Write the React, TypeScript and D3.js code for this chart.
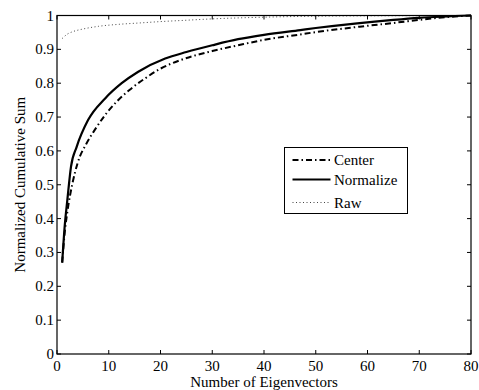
import React from "react";
import * as d3 from "d3";

const xTicks = [0, 10, 20, 30, 40, 50, 60, 70, 80];
const yTicks = [0, 0.1, 0.2, 0.3, 0.4, 0.5, 0.6, 0.7, 0.8, 0.9, 1];

const centerN = [1, 1.5, 2, 3, 4, 5.7, 7.3, 9.3, 11.5, 14, 17, 20, 24, 30, 35, 40, 47, 50, 58.5, 65, 70, 75, 80];
const centerV = [0.27, 0.36, 0.42, 0.505, 0.565, 0.622, 0.662, 0.706, 0.745, 0.78, 0.814, 0.843, 0.869, 0.895, 0.912, 0.928, 0.944, 0.951, 0.967, 0.978, 0.987, 0.995, 1.0];

const normN = [1, 1.5, 2, 2.7, 3.8, 6, 9.3, 12.5, 15.7, 20.9, 25, 30, 35, 40, 47, 50, 58, 65, 70, 80];
const normV = [0.27, 0.38, 0.455, 0.553, 0.612, 0.691, 0.755, 0.8, 0.834, 0.873, 0.892, 0.912, 0.93, 0.943, 0.957, 0.963, 0.977, 0.987, 0.993, 1.0];

const rawN = [1, 2, 3, 5, 8, 12, 16, 20, 25, 30, 40, 50, 60, 80];
const rawV = [0.932, 0.945, 0.952, 0.96, 0.968, 0.974, 0.978, 0.982, 0.986, 0.99, 0.995, 0.998, 0.999, 1.0];

const seriesNames = ["Center", "Normalize", "Raw"];

const W = 479, H = 390;
const L = 57, R = 471, T = 15.5, B = 354;

export default function App() {
  const x = d3.scaleLinear().domain([0, 80]).range([L, R]);
  const y = d3.scaleLinear().domain([0, 1]).range([B, T]);
  const line = d3
    .line<[number, number]>()
    .x((d) => x(d[0]))
    .y((d) => y(d[1]))
    .curve(d3.curveMonotoneX);
  const zip = (a: number[], b: number[]) => a.map((v, i) => [v, b[i]] as [number, number]);
  const fs = { fontFamily: "'Liberation Serif'" };
  const styles = [
    { stroke: "#000", width: 2, dash: "6,3,1.5,3" },
    { stroke: "#000", width: 2.2, dash: "" },
    { stroke: "#444", width: 1, dash: "1,2.5" },
  ];
  const paths = [zip(centerN, centerV), zip(normN, normV), zip(rawN, rawV)];
  const legX = 284.5, legY = 147.5, legW = 123, legH = 66;
  const entryY = [160, 179.5, 202.5];
  return (
    <svg width={W} height={H} style={{ position: "absolute", left: 0, top: 0 }}>
      <rect x={0} y={0} width={W} height={H} fill="#fff" />
      {paths.map((p, i) => (
        <path
          key={i}
          d={line(p) || ""}
          fill="none"
          stroke={styles[i].stroke}
          strokeWidth={styles[i].width}
          strokeDasharray={styles[i].dash || undefined}
        />
      ))}
      <rect x={L} y={T} width={R - L} height={B - T} fill="none" stroke="#000" strokeWidth={1.2} />
      {xTicks.map((t) => (
        <g key={"x" + t}>
          <line x1={x(t)} x2={x(t)} y1={B} y2={B - 4} stroke="#000" />
          <line x1={x(t)} x2={x(t)} y1={T} y2={T + 4} stroke="#000" />
          <text x={x(t)} y={371} textAnchor="middle" style={fs} fontSize={15}>
            {t}
          </text>
        </g>
      ))}
      {yTicks.map((t) => (
        <g key={"y" + t}>
          <line x1={L} x2={L + 4} y1={y(t)} y2={y(t)} stroke="#000" />
          <line x1={R} x2={R - 4} y1={y(t)} y2={y(t)} stroke="#000" />
          <text x={L - 3} y={y(t) + 5} textAnchor="end" style={fs} fontSize={15}>
            {d3.format("")(Math.round(t * 10) / 10)}
          </text>
        </g>
      ))}
      <text x={264} y={387} textAnchor="middle" style={fs} fontSize={15}>
        Number of Eigenvectors
      </text>
      <text
        transform={`translate(25,${(T + B) / 2}) rotate(-90)`}
        textAnchor="middle"
        style={fs}
        fontSize={15}
      >
        Normalized Cumulative Sum
      </text>
      <rect x={legX} y={legY} width={legW} height={legH} fill="#fff" stroke="#000" strokeWidth={1} />
      {seriesNames.map((s, i) => (
        <g key={s}>
          <line
            x1={292.5}
            x2={330.5}
            y1={entryY[i]}
            y2={entryY[i]}
            stroke={styles[i].stroke}
            strokeWidth={styles[i].width}
            strokeDasharray={styles[i].dash || undefined}
          />
          <text x={334} y={entryY[i] + 5} style={fs} fontSize={15}>
            {s}
          </text>
        </g>
      ))}
    </svg>
  );
}
